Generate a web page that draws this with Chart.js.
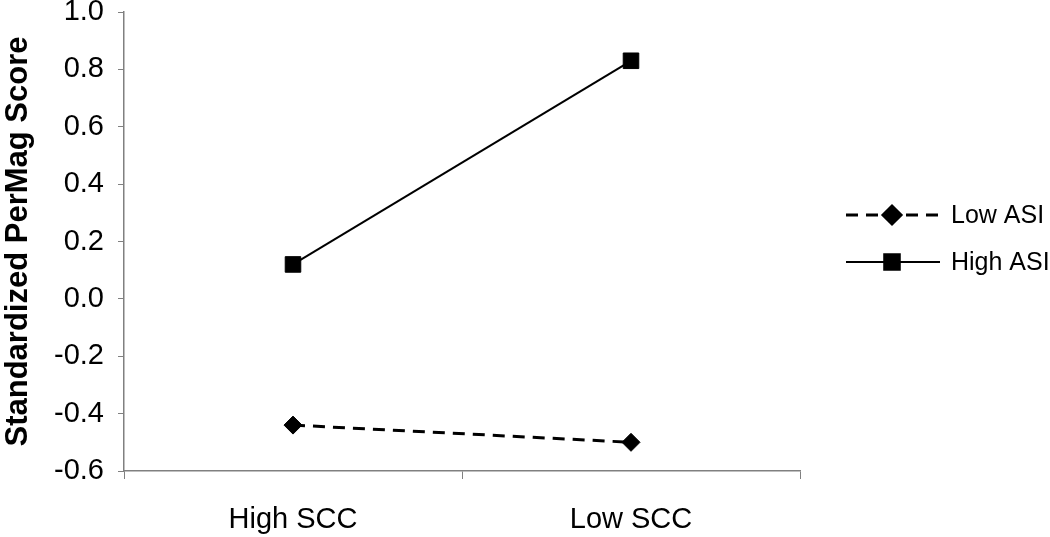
<!DOCTYPE html>
<html>
<head>
<meta charset="utf-8">
<script src="https://cdn.jsdelivr.net/npm/chart.js@4/dist/chart.umd.min.js"></script>
<style>
  html, body { margin: 0; padding: 0; background: #fff; }
  #wrap { width: 1050px; height: 537px; }
</style>
</head>
<body>
<div id="wrap"><canvas id="scoreChart"></canvas></div>
<script>
const categories = ['High SCC', 'Low SCC'];
const lowAsi = [-0.44, -0.50];
const highAsi = [0.12, 0.83];
const yTicks = [-0.6, -0.4, -0.2, 0.0, 0.2, 0.4, 0.6, 0.8, 1.0];

const axisGray = '#808080';
const font = 'Liberation Sans, Arial, sans-serif';

// legend drawn by hand: line + marker + text, like the original
const sideLegend = {
  id: 'sideLegend',
  afterDraw(chart) {
    const c = chart.ctx;
    const rows = [215, 262];
    chart.data.datasets.forEach((ds, i) => {
      const y = rows[i];
      c.save();
      c.strokeStyle = ds.borderColor;
      c.lineWidth = ds.borderWidth;
      c.setLineDash(ds.borderDash || []);
      c.beginPath();
      c.moveTo(846, y);
      c.lineTo(940, y);
      c.stroke();
      c.setLineDash([]);
      c.fillStyle = '#000';
      Chart.helpers.drawPoint(c, {
        pointStyle: ds.pointStyle,
        radius: ds.pointRadius,
        rotation: 0,
        borderWidth: 1
      }, 892, y);
      c.font = '25px ' + font;
      c.textBaseline = 'middle';
      c.fillText(ds.label, 951, y + 1);
      c.restore();
    });
  }
};

new Chart(document.getElementById('scoreChart'), {
  type: 'line',
  data: {
    labels: categories,
    datasets: [{
      label: 'Low ASI',
      data: lowAsi,
      borderColor: '#000',
      backgroundColor: '#000',
      borderWidth: 3,
      borderDash: [12, 8],
      pointStyle: 'rectRot',
      pointRadius: 9,
      pointBorderWidth: 1
    }, {
      label: 'High ASI',
      data: highAsi,
      borderColor: '#000',
      backgroundColor: '#000',
      borderWidth: 2,
      pointStyle: 'rect',
      pointRadius: 11,
      pointBorderWidth: 1
    }]
  },
  options: {
    responsive: true,
    maintainAspectRatio: false,
    animation: false,
    layout: { padding: { top: 12, right: 250, bottom: 0, left: 0 } },
    plugins: {
      legend: { display: false },
      tooltip: { enabled: false }
    },
    scales: {
      x: {
        offset: true,
        grid: {
          offset: true,
          drawOnChartArea: false,
          color: axisGray,
          tickLength: 8
        },
        border: { color: axisGray, width: 1.5 },
        ticks: { color: '#000', font: { family: font, size: 29 }, padding: 24 },
        afterFit(scale) { scale.height = 66; }
      },
      y: {
        min: -0.6,
        max: 1.0,
        afterBuildTicks(scale) { scale.ticks = yTicks.map(v => ({ value: v })); },
        grid: {
          drawOnChartArea: false,
          color: axisGray,
          tickLength: 6
        },
        border: { color: axisGray, width: 1.5 },
        ticks: {
          color: '#000',
          font: { family: font, size: 29 },
          padding: 14,
          callback: v => v.toFixed(1)
        },
        title: {
          display: true,
          text: 'Standardized PerMag Score',
          color: '#000',
          font: { family: font, size: 31, weight: 'bold' },
          padding: 0
        },
        afterFit(scale) {
          scale.width = 124;
          scale.paddingTop = 0;
          scale.paddingBottom = 0;
        }
      }
    }
  },
  plugins: [sideLegend]
});
</script>
</body>
</html>
